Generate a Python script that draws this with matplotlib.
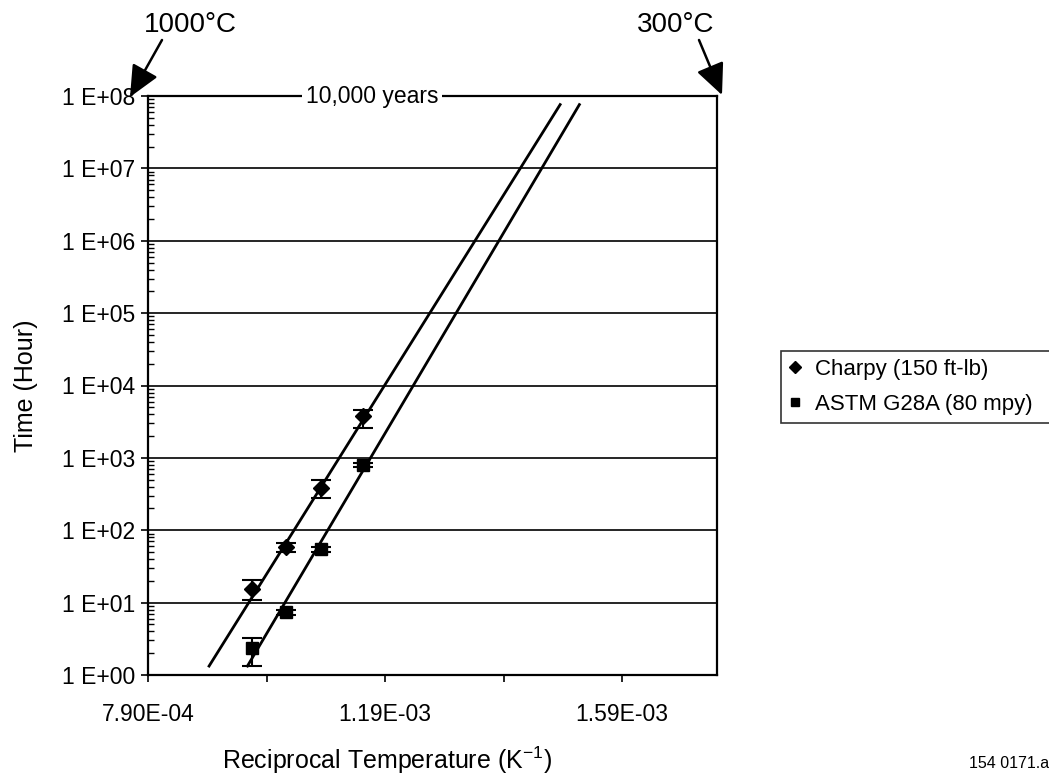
import numpy as np
import matplotlib
matplotlib.use("Agg")
import matplotlib.pyplot as plt
from matplotlib.ticker import FixedLocator, LogLocator, NullFormatter, FuncFormatter
from matplotlib.patches import FancyArrowPatch
from matplotlib.lines import Line2D

plt.rcParams['font.family'] = ['Liberation Sans', 'DejaVu Sans']

# ---- data ----
charpy_x = [0.0009655, 0.001023, 0.001082, 0.001153]
charpy_y = [15.4, 58.6, 383.0, 3780.0]
charpy_lo = [11.0, 49.6, 276.0, 2560.0]
charpy_hi = [20.5, 67.5, 493.0, 4570.0]

astm_x = [0.0009655, 0.001023, 0.001082, 0.001153]
astm_y = [2.34, 7.35, 54.5, 795.0]
astm_lo = [1.33, 6.8, 50.0, 740.0]
astm_hi = [3.21, 7.9, 59.0, 850.0]

trend1_x = [0.0008918, 0.0014866]
trend1_y = [1.28, 7.9e7]
trend2_x = [0.0009566, 0.001519]
trend2_y = [1.28, 7.9e7]

x_ticks = [0.00079, 0.00119, 0.00159]
x_minor = [0.00099, 0.00139]
x_min, x_max = 0.00079, 0.00175
y_min, y_max = 1.0, 1e8

W, H = 1049, 780
fig = plt.figure(figsize=(W / 100, H / 100), dpi=100)
ax = fig.add_axes([148 / W, 1 - 675 / H, (717 - 148) / W, (675 - 96) / H])

ax.set_yscale('log')
ax.set_xlim(x_min, x_max)
ax.set_ylim(y_min, y_max)

# grid
for k in range(1, 9):
    ax.axhline(10.0 ** k, color='black', lw=1.2, zorder=1)

# trend lines
ax.plot(trend1_x, trend1_y, color='black', lw=2.0, zorder=3, solid_capstyle='butt')
ax.plot(trend2_x, trend2_y, color='black', lw=2.0, zorder=3, solid_capstyle='butt')

# data with error bars
cy = np.array(charpy_y)
ay = np.array(astm_y)
ax.errorbar(charpy_x, cy, yerr=[cy - np.array(charpy_lo), np.array(charpy_hi) - cy],
            fmt='D', color='black', ms=8, capsize=7, elinewidth=1.5, capthick=1.5, zorder=4)
ax.errorbar(astm_x, ay, yerr=[ay - np.array(astm_lo), np.array(astm_hi) - ay],
            fmt='s', color='black', ms=8, capsize=7, elinewidth=1.5, capthick=1.5, zorder=4)

# ticks
ax.xaxis.set_major_locator(FixedLocator(x_ticks))
ax.xaxis.set_minor_locator(FixedLocator(x_minor))
ax.xaxis.set_major_formatter(FuncFormatter(lambda v, p: ('%.2E' % v)))
ax.xaxis.set_minor_formatter(NullFormatter())
ax.yaxis.set_major_locator(LogLocator(base=10, numticks=20))
ax.yaxis.set_minor_locator(LogLocator(base=10, subs=np.arange(2, 10), numticks=20))
ax.yaxis.set_minor_formatter(NullFormatter())
ax.yaxis.set_major_formatter(FuncFormatter(lambda v, p: '1 E+%02d' % int(round(np.log10(v)))))

ax.tick_params(axis='y', which='major', direction='out', length=5, width=1.2, labelsize=16.5, pad=4)
ax.tick_params(axis='y', which='minor', direction='in', length=4, width=1.0)
ax.tick_params(axis='x', which='both', direction='out', length=5, width=1.2, labelsize=16.5, pad=15)

for s in ['left', 'bottom', 'right', 'top']:
    ax.spines[s].set_linewidth(1.6)
    ax.spines[s].set_color('black')

# axis labels
fig.text(26 / W, 1 - 386 / H, 'Time (Hour)', rotation=90, ha='center', va='center', fontsize=18)
fig.text(387 / W, 1 - 760 / H, r'Reciprocal Temperature (K$^{\mathregular{-1}}$)',
         ha='center', va='center', fontsize=18)

# 10,000 years label on top line
fig.text(372 / W, 1 - 97 / H, '10,000 years', ha='center', va='center', fontsize=16.5,
         bbox=dict(facecolor='white', edgecolor='none', pad=3), zorder=10)

# temperature arrows
fig.text(190 / W, 1 - 25 / H, '1000°C', ha='center', va='center', fontsize=20)
fig.text(676 / W, 1 - 25 / H, '300°C', ha='center', va='center', fontsize=20)
for (x0, y0), (x1, y1) in [((162, 40), (130, 97)), ((699, 40), (722, 95))]:
    fig.add_artist(FancyArrowPatch(
        (x0 / W, 1 - y0 / H), (x1 / W, 1 - y1 / H), transform=fig.transFigure,
        arrowstyle='-|>,head_length=1.2,head_width=0.55', lw=1.8, color='black',
        mutation_scale=16, shrinkA=0, shrinkB=0))

# legend
handles = [Line2D([], [], marker='D', color='black', ls='none', ms=6),
           Line2D([], [], marker='s', color='black', ls='none', ms=6)]
leg = fig.legend(handles, ['Charpy (150 ft-lb)', 'ASTM G28A (80 mpy)'],
                 loc='upper left', bbox_to_anchor=(781 / W, 1 - 419 / H, 290 / W, 68 / H),
                 mode='expand', fontsize=16, frameon=True, fancybox=False, edgecolor='black',
                 handlelength=0.6, handletextpad=0.6, borderpad=0.35, labelspacing=0.65,
                 borderaxespad=0)
leg.get_frame().set_linewidth(1.2)

fig.text(1049 / W, 1 - 763 / H, '154 0171.a', ha='right', va='center', fontsize=11.5)

fig.savefig('out.png', dpi=100)
